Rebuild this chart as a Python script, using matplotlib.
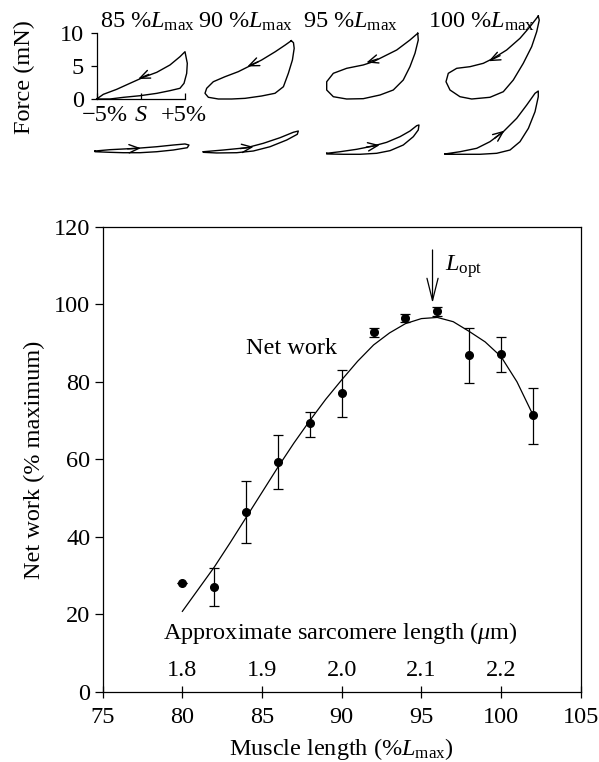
import numpy as np
import matplotlib
matplotlib.use("Agg")
import matplotlib.pyplot as plt

plt.rcParams['font.family'] = ['Liberation Serif', 'DejaVu Serif']
plt.rcParams['mathtext.fontset'] = 'custom'
plt.rcParams['mathtext.rm'] = 'Liberation Serif'
plt.rcParams['mathtext.it'] = 'Liberation Serif:italic'
plt.rcParams['mathtext.bf'] = 'Liberation Serif:bold'

# ---------------- data: main panel ----------------
muscle_length = [80, 82, 84, 86, 88, 90, 92, 94, 96, 98, 100, 102]
net_work = [28.0, 27.2, 46.3, 59.3, 69.3, 77.0, 92.9, 96.5, 98.2, 86.9, 87.1, 71.4]
net_work_hi = [28.0, 31.9, 54.4, 66.2, 72.3, 83.0, 94.0, 97.6, 99.2, 94.0, 91.6, 78.5]
net_work_lo = [28.0, 22.3, 38.4, 52.4, 65.8, 70.8, 91.6, 95.4, 97.0, 79.8, 82.6, 64.0]

fit_x = [80, 81, 82, 83, 84, 85, 86, 87, 88, 89, 90, 91,
         92, 93, 94, 95, 96, 97, 98, 99, 100, 101, 102]
fit_y = [20.8, 26.5, 32.2, 38.5, 45.0, 51.5, 58.0, 64.2, 70.0, 75.5, 80.5, 85.3,
         89.5, 92.6, 95.0, 96.3, 96.6, 95.5, 93.0, 90.3, 86.5, 80.0, 71.5]

x_ticks = [75, 80, 85, 90, 95, 100, 105]
y_ticks = [0, 20, 40, 60, 80, 100, 120]
sarc_pos = [80, 85, 90, 95, 100]
sarc_labels = ['1.8', '1.9', '2.0', '2.1', '2.2']
l_opt = 95.7

# ---------------- data: work loops (strain %, force mN) ----------------
loop_labels = ['85', '90', '95', '100']

up1_s = [-5.0, -4.25, -2.74, -1.23, 0.28, 1.80, 3.30, 4.43, 5.0, 5.26, 5.19, 4.89, 4.43, 3.30, 1.80, -0.1, -2.0, -3.5]
up1_f = [0.0, 0.71, 1.47, 2.39, 3.30, 4.06, 5.18, 6.44, 7.2, 5.43, 3.9, 2.39, 1.63, 1.27, 0.86, 0.50, 0.25, 0.0]
up2_s = [4.77, 4.09, 2.96, 1.42, 0.29, -1.23, -2.74, -4.06, -4.81, -5.0, -4.62, -3.49, -1.98, -0.47, 1.42, 2.93, 3.88, 4.44, 4.90, 5.1, 5.02]
up2_f = [8.87, 8.22, 7.2, 5.94, 5.18, 4.16, 3.39, 2.63, 1.63, 0.87, 0.26, 0.0, 0.0, 0.1, 0.46, 0.87, 1.87, 3.91, 5.94, 7.71, 8.57]
up3_s = [5.31, 4.43, 2.93, 1.41, 0.28, -0.86, -2.74, -4.25, -5.0, -5.0, -4.25, -2.74, -0.86, 1.04, 2.54, 3.67, 4.43, 5.0, 5.37]
up3_f = [10.0, 8.98, 7.46, 6.44, 5.68, 5.18, 4.67, 3.91, 2.63, 1.37, 0.35, 0.0, 0.05, 0.61, 1.37, 2.89, 4.92, 6.96, 8.98]
up4_s = [5.53, 4.59, 3.46, 1.95, 0.44, -0.70, -2.20, -3.71, -4.66, -4.92, -4.47, -3.34, -2.01, 0.06, 1.57, 2.70, 3.83, 4.78, 5.35, 5.64]
up4_f = [12.63, 11.0, 9.24, 7.46, 6.19, 5.43, 4.92, 4.67, 3.91, 2.63, 1.37, 0.35, 0.0, 0.26, 1.11, 2.89, 5.43, 7.96, 10.24, 12.0]

lo1_s = [-5.19, -3.49, -0.47, 1.80, 3.67, 5.0, 5.45, 5.26, 3.67, 1.80, -0.1, -1.99, -3.49, -5.19]
lo1_f = [0.35, 0.55, 0.76, 1.0, 1.26, 1.42, 1.26, 0.85, 0.5, 0.24, 0.09, 0.09, 0.15, 0.24]
lo2_s = [-5.19, -2.93, -0.28, 1.60, 3.49, 5.0, 5.57, 5.45, 4.25, 2.36, 0.47, -1.41, -3.68, -5.19]
lo2_f = [0.24, 0.5, 0.85, 1.52, 2.37, 3.2, 3.39, 2.89, 2.02, 1.0, 0.35, 0.09, 0.05, 0.15]
lo3_s = [-5.0, -3.49, -1.60, 0.28, 1.79, 3.30, 4.43, 5.19, 5.45, 5.37, 4.81, 3.67, 2.17, 0.66, -1.23, -3.12, -5.0]
lo3_f = [0.0, 0.24, 0.61, 1.11, 1.67, 2.53, 3.39, 4.2, 4.31, 3.55, 2.53, 1.26, 0.4, 0.0, -0.15, -0.15, -0.1]
lo4_s = [-5.03, -3.34, -1.44, 0.06, 1.57, 3.09, 4.22, 5.16, 5.53, 5.53, 5.16, 4.41, 3.46, 2.33, 0.82, -1.07, -3.34, -5.03]
lo4_f = [-0.1, 0.24, 0.76, 1.77, 3.29, 5.33, 7.35, 9.13, 9.48, 8.61, 6.33, 3.8, 1.77, 0.5, 0.0, -0.15, -0.15, -0.15]

# arrow (tail -> tip) positions on each loop
up_arrows = [((0.9, 3.75), (-0.3, 3.05)), ((1.0, 5.65), (-0.2, 4.95)),
             ((0.8, 6.1), (-0.5, 5.55)), ((1.2, 6.6), (-0.1, 5.75))]
lo_arrows = [((-1.5, 0.68), (0.0, 0.78)), ((-1.0, 0.72), (0.5, 0.98)),
             ((-0.5, 0.95), (1.0, 1.25)), ((0.6, 2.3), (1.7, 3.45))]

force_ticks = [0, 5, 10]
strain_ticks = [-5, 0, 5]
strain_labels = ['\u22125%', '$S$', '+5%']
strain_label_pos = [-4.05, 0.0, 4.85]

# ---------------- figure ----------------
W, H = 599, 762
fig = plt.figure(figsize=(W / 100, H / 100), dpi=100)
FS = 17.5


def px_axes(left, top, width, height):
    return fig.add_axes([left / W, 1 - (top + height) / H, width / W, height / H])


# main axes
ax = px_axes(102.7, 226.7, 478.0, 465.3)
lw = 0.9
ax.plot(fit_x, fit_y, color='black', lw=lw)
y_arr = np.array(net_work)
yerr = [y_arr - np.array(net_work_lo), np.array(net_work_hi) - y_arr]
ax.errorbar(muscle_length, net_work, yerr=yerr, fmt='o', color='black', ms=5.5,
            ecolor='black', elinewidth=lw, capsize=3.8, capthick=lw)
ax.set_xlim(75, 105)
ax.set_ylim(0, 120)
ax.set_xticks(x_ticks)
ax.set_yticks(y_ticks)
ax.tick_params(axis='y', direction='out', length=6, width=lw, labelsize=FS, pad=3)
ax.tick_params(axis='x', direction='inout', length=9, width=lw, labelsize=FS, pad=6)
for sp in ax.spines.values():
    sp.set_linewidth(lw)
ax.set_ylabel('Net work (% maximum)', fontsize=FS, labelpad=6)
ax.set_xlabel('Muscle length (%$L_{\\rm max}$)', fontsize=FS, labelpad=6)

for p, lab in zip(sarc_pos, sarc_labels):
    ax.text(p, 5.5, lab, fontsize=FS, ha='center', va='center')
ax.text(89.9, 15.2, 'Approximate sarcomere length ($\\mu$m)', fontsize=FS,
        ha='center', va='center')
ax.text(84.0, 88.7, 'Net work', fontsize=FS, ha='left', va='center')
ax.annotate('', xy=(l_opt, 100.3), xytext=(l_opt, 114.0),
            arrowprops=dict(arrowstyle='->,head_length=0.8,head_width=0.2',
                            color='black', lw=lw, mutation_scale=20,
                            shrinkA=0, shrinkB=0))
ax.text(96.5, 109.6, '$L_{\\rm opt}$', fontsize=FS, ha='left', va='center')

# work loops
SX, SY = 8.83, 6.57  # pixels per % strain, per mN
px0s = [96.7, 205.0, 326.7, 445.3]
rows = [
    (99.0, [(up1_s, up1_f), (up2_s, up2_f), (up3_s, up3_f), (up4_s, up4_f)], up_arrows),
    (153.3, [(lo1_s, lo1_f), (lo2_s, lo2_f), (lo3_s, lo3_f), (lo4_s, lo4_f)], lo_arrows),
]
first_ax = None
for zero_py, loops, arrows in rows:
    for px0, (s, f), (tail, tip) in zip(px0s, loops, arrows):
        la = px_axes(px0 - 1 * SX, zero_py - 13.5 * SY, 13 * SX, 15 * SY)
        la.set_xlim(-6, 7)
        la.set_ylim(-1.5, 13.5)
        la.patch.set_visible(False)
        la.plot(list(s) + [s[0]], list(f) + [f[0]], color='black', lw=1.0)
        la.annotate('', xy=tip, xytext=tail,
                    arrowprops=dict(arrowstyle='->,head_length=0.6,head_width=0.25',
                                    color='black', lw=1.0, mutation_scale=12,
                                    shrinkA=0, shrinkB=0))
        if first_ax is None:
            first_ax = la
        else:
            la.axis('off')

la = first_ax
for k in ['top', 'right']:
    la.spines[k].set_visible(False)
la.spines['left'].set_position(('data', -5))
la.spines['bottom'].set_position(('data', 0))
la.spines['left'].set_bounds(0, 10)
la.spines['bottom'].set_bounds(-5, 5)
la.spines['left'].set_linewidth(lw)
la.spines['bottom'].set_linewidth(lw)
la.set_yticks(force_ticks)
la.set_yticklabels([str(v) for v in force_ticks])
la.set_xticks(strain_ticks)
la.set_xticklabels([''] * len(strain_ticks))
la.tick_params(axis='y', direction='out', length=4, width=lw, labelsize=FS, pad=5)
la.tick_params(axis='x', direction='in', length=4, width=lw)
for xp, lab in zip(strain_label_pos, strain_labels):
    la.text(xp, -0.85, lab, fontsize=FS, ha='center', va='top')

fig.text(24 / W, 1 - 77 / H, 'Force (mN)', fontsize=FS, rotation=90,
         ha='center', va='center')
lab_left = [100, 198, 303.3, 428.3]
for xl, lab in zip(lab_left, loop_labels):
    fig.text(xl / W, 1 - 28 / H, lab + ' %$L_{\\rm max}$', fontsize=FS,
             ha='left', va='baseline')

fig.savefig('out.png', dpi=100)
